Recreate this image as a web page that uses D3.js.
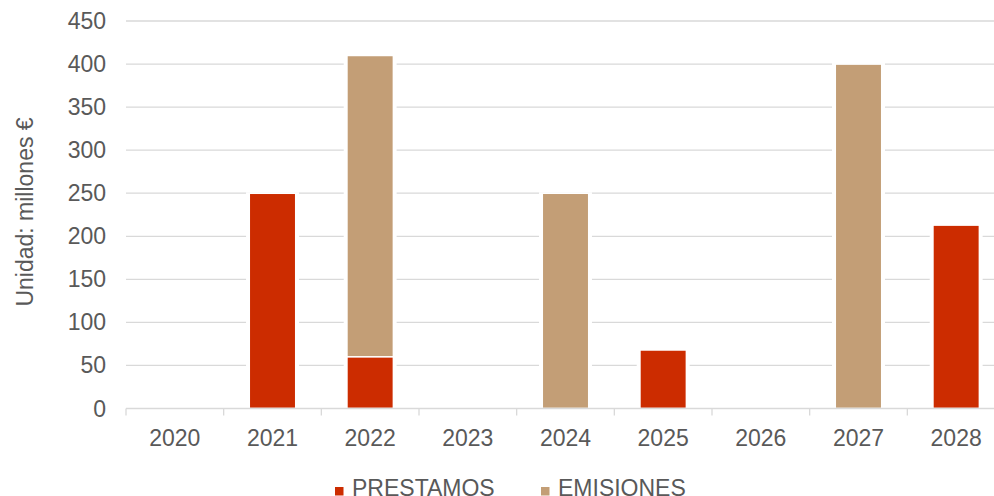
<!DOCTYPE html>
<html>
<head>
<meta charset="utf-8">
<script src="https://cdn.jsdelivr.net/npm/d3@7"></script>
<style>
  body { margin: 0; background: #fff; }
  text { font-family: "Liberation Sans", Arial, sans-serif; fill: #595959; }
</style>
</head>
<body>
<div id="chart"></div>
<script>
const years = ["2020", "2021", "2022", "2023", "2024", "2025", "2026", "2027", "2028"];
const prestamos = [0, 250, 60, 0, 0, 68, 0, 0, 213];
const emisiones = [0, 0, 350, 0, 250, 0, 0, 400, 0];
const seriesNames = ["PRESTAMOS", "EMISIONES"];
const colors = ["#cc2c00", "#c39e76"];
const yTicks = [0, 50, 100, 150, 200, 250, 300, 350, 400, 450];

const width = 994, height = 496;
const x0 = 126, x1 = 1005, yBottom = 408.5, yTop = 21;
const fontSize = "23px";

const rows = years.map((y, i) => ({ year: y, PRESTAMOS: prestamos[i], EMISIONES: emisiones[i] }));
const stacked = d3.stack().keys(seriesNames)(rows);

const x = d3.scaleBand().domain(years).range([x0, x1]).paddingInner(0.54).paddingOuter(0.27);
const y = d3.scaleLinear().domain([0, 450]).range([yBottom, yTop]);

const svg = d3.select("#chart").append("svg")
  .attr("width", width).attr("height", height);

// gridlines
svg.append("g")
  .selectAll("line")
  .data(yTicks.slice(1))
  .enter()
  .append("line")
  .attr("x1", x0).attr("x2", x1)
  .attr("y1", d => y(d)).attr("y2", d => y(d))
  .attr("stroke", "#d9d9d9")
  .attr("stroke-width", 1.3);

// y tick labels
svg.append("g")
  .selectAll("text")
  .data(yTicks)
  .enter()
  .append("text")
  .attr("x", 106)
  .attr("y", d => y(d) + 8)
  .attr("text-anchor", "end")
  .style("font-size", fontSize)
  .text(d => d);

const segments = stacked.map((s, i) => s.filter(p => p[1] > p[0]).map(p => ({ p, i }))).flat();

// white halo that breaks the gridlines next to each bar
svg.append("g")
  .selectAll("rect")
  .data(segments)
  .enter()
  .append("rect")
  .attr("x", d => x(d.p.data.year) - 4)
  .attr("width", x.bandwidth() + 8)
  .attr("y", d => y(d.p[1]) - 1)
  .attr("height", d => y(d.p[0]) - y(d.p[1]) + 1)
  .attr("fill", "#fff");

// bars
svg.append("g")
  .selectAll("rect")
  .data(segments)
  .enter()
  .append("rect")
  .attr("x", d => x(d.p.data.year))
  .attr("width", x.bandwidth())
  .attr("y", d => y(d.p[1]) + 0.8)
  .attr("height", d => y(d.p[0]) - y(d.p[1]) - 1.6)
  .attr("fill", d => colors[d.i]);

// x axis
const step = x.step();
const axis = svg.append("g");
axis.append("line")
  .attr("x1", x0).attr("x2", x1)
  .attr("y1", yBottom).attr("y2", yBottom)
  .attr("stroke", "#d9d9d9").attr("stroke-width", 1.3);
axis.selectAll("line.tick")
  .data(d3.range(years.length + 1))
  .enter()
  .append("line")
  .attr("class", "tick")
  .attr("x1", i => x0 + i * step).attr("x2", i => x0 + i * step)
  .attr("y1", yBottom).attr("y2", yBottom + 7)
  .attr("stroke", "#d9d9d9").attr("stroke-width", 1.3);
axis.selectAll("text")
  .data(years)
  .enter()
  .append("text")
  .attr("x", d => x(d) + x.bandwidth() / 2)
  .attr("y", 446)
  .attr("text-anchor", "middle")
  .style("font-size", fontSize)
  .text(d => d);

// y axis title
svg.append("text")
  .attr("transform", "translate(33,212) rotate(-90)")
  .attr("text-anchor", "middle")
  .style("font-size", fontSize)
  .text("Unidad: millones €");

// legend
const legendX = [335, 541];
const legend = svg.append("g")
  .selectAll("g")
  .data(seriesNames)
  .enter()
  .append("g")
  .attr("transform", (d, i) => `translate(${legendX[i]},495)`);
legend.append("rect")
  .attr("x", 0).attr("y", -8)
  .attr("width", 8.5).attr("height", 8.5)
  .attr("fill", (d, i) => colors[i]);
legend.append("text")
  .attr("x", 17).attr("y", 0.5)
  .style("font-size", fontSize)
  .text(d => d);
</script>
</body>
</html>
